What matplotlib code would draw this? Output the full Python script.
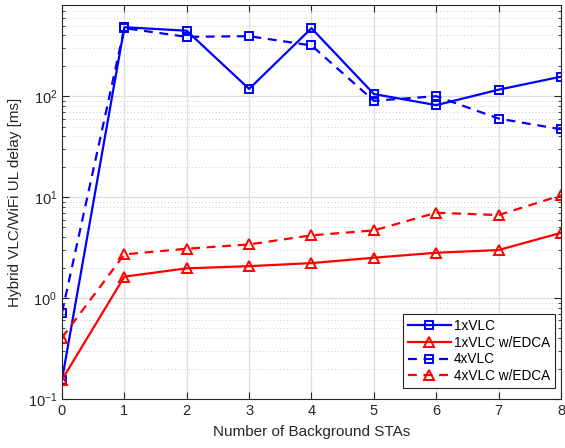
import matplotlib
matplotlib.use("Agg")
import matplotlib.pyplot as plt
from matplotlib.ticker import LogLocator, LogFormatterMathtext, NullFormatter

plt.rcParams['font.family'] = ['Liberation Sans', 'DejaVu Sans']
plt.rcParams['mathtext.fontset'] = 'custom'
plt.rcParams['mathtext.rm'] = 'Liberation Sans'
plt.rcParams['mathtext.it'] = 'Liberation Sans'

x = [0, 1, 2, 3, 4, 5, 6, 7, 8]
vlc1 = [0.155, 482, 445, 118, 471, 105, 81.5, 116, 156]
vlc1_edca = [0.155, 1.63, 1.97, 2.07, 2.22, 2.51, 2.81, 2.99, 4.43]
vlc4 = [0.716, 472, 387, 393, 318, 90, 100, 60, 47]
vlc4_edca = [0.405, 2.71, 3.08, 3.40, 4.18, 4.68, 7.0, 6.64, 10.4]
labels = ['1xVLC', '1xVLC w/EDCA', '4xVLC', '4xVLC w/EDCA']

fig = plt.figure(figsize=(5.65, 4.48), dpi=100)
ax = fig.add_axes([0.1097, 0.1094, 0.9929 - 0.1097, 0.9888 - 0.1094])

lw = 1.6
ax.plot(x, vlc1, '-', color='#0000ff', lw=lw, marker='s', ms=6, mfc='none', mew=1.4, label=labels[0])
ax.plot(x, vlc1_edca, '-', color='#ff0000', lw=lw, marker='^', ms=7.5, mfc='none', mew=1.4, label=labels[1])
ax.plot(x, vlc4, '--', color='#0000ff', lw=lw, marker='s', ms=6, mfc='none', mew=1.4, label=labels[2], dashes=(4, 3))
ax.plot(x, vlc4_edca, '--', color='#ff0000', lw=lw, marker='^', ms=7.5, mfc='none', mew=1.4, label=labels[3], dashes=(4, 3))

ax.set_yscale('log')
ax.set_xlim(0, 8)
ax.set_ylim(0.1, 800)
ax.set_xticks(range(0, 9))
ax.yaxis.set_major_locator(LogLocator(base=10, numticks=10))
ax.yaxis.set_major_formatter(LogFormatterMathtext())
ax.yaxis.set_minor_locator(LogLocator(base=10, subs=range(2, 10), numticks=20))
ax.yaxis.set_minor_formatter(NullFormatter())

ax.grid(True, which='major', color='#dedede', lw=0.9, ls='-')
ax.grid(True, which='minor', axis='y', color='#cccccc', lw=0.7, ls=(0, (1, 2.5)))
ax.set_axisbelow(True)

for s in ax.spines.values():
    s.set_color('#262626')
    s.set_linewidth(0.8)
ax.tick_params(which='both', direction='in', top=True, right=True, colors='#262626', labelsize=10.5)
ax.tick_params(which='major', length=5)
ax.tick_params(which='minor', length=2.5)

ax.set_xlabel('Number of Background STAs', fontsize=11, color='#262626', labelpad=5)
ax.set_ylabel('Hybrid VLC/WiFi UL delay [ms]', fontsize=11, color='#262626', labelpad=4)

leg = ax.legend(loc='lower right', bbox_to_anchor=(0.988, 0.028), fontsize=9.8, handlelength=3.2,
                handletextpad=0.2, borderpad=0.35, labelspacing=0.2, fancybox=False,
                framealpha=1, edgecolor='#262626', borderaxespad=0.0)
leg.get_frame().set_linewidth(0.8)

fig.savefig('out.png', dpi=100)
